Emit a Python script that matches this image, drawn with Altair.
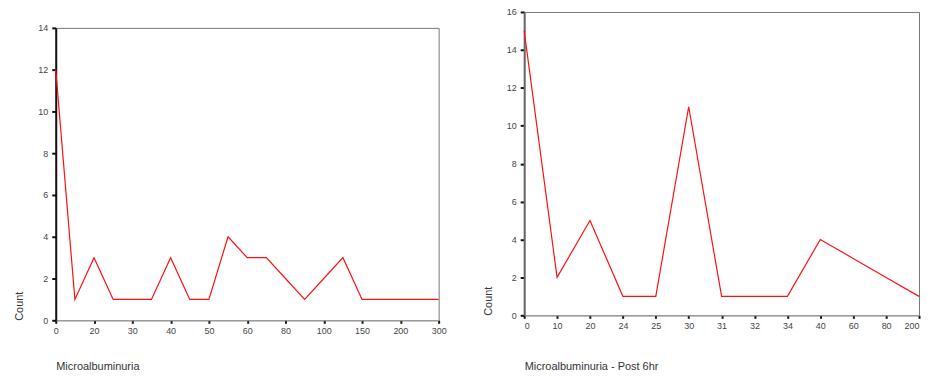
import altair as alt
import pandas as pd

# Left panel: Microalbuminuria (21 ordered categories, every 2nd labelled)
left_categories = ["0", "10", "20", "25", "30", "35", "40", "45", "50", "55", "60",
                   "70", "80", "90", "100", "120", "150", "180", "200", "250", "300"]
left_counts = [12, 1, 3, 1, 1, 1, 3, 1, 1, 4, 3, 3, 2, 1, 2, 3, 1, 1, 1, 1, 1]
left_tick_labels = left_categories[::2]

# Right panel: Microalbuminuria - Post 6hr
right_categories = ["0", "10", "20", "24", "25", "30", "31", "32", "34", "40", "60", "80", "200"]
right_counts = [15, 2, 5, 1, 1, 11, 1, 1, 1, 4, 3, 2, 1]

left_df = pd.DataFrame({"cat": left_categories, "count": left_counts})
right_df = pd.DataFrame({"cat": right_categories, "count": right_counts})

FONT = "Liberation Sans"


def panel(df, cats, tick_values, ymax, xtitle, w, h, ydomain_color, title_pad, flush):
    return alt.Chart(df).mark_line(color="#ff1010", strokeWidth=1.2).encode(
        x=alt.X("cat:N", sort=cats,
                scale=alt.Scale(type="point", padding=0),
                axis=alt.Axis(values=tick_values, labelAngle=0, title=xtitle,
                              titleAnchor="start", titleAlign="left",
                              titlePadding=title_pad, titleFontWeight="normal",
                              titleFontSize=11, titleColor="#333", titleFont=FONT,
                              labelFontSize=9, labelColor="#444", labelFont=FONT,
                              labelPadding=3, labelFlush=flush,
                              domainColor="#999", domainWidth=1,
                              tickColor="#111", tickSize=3, tickWidth=2, grid=False)),
        y=alt.Y("count:Q",
                scale=alt.Scale(domain=[0, ymax], nice=False, zero=True),
                axis=alt.Axis(values=list(range(0, ymax + 1, 2)), title="Count",
                              titleAnchor="start", titleAlign="left",
                              titlePadding=13, titleFontWeight="normal",
                              titleFontSize=11, titleColor="#333", titleFont=FONT,
                              labelFontSize=9, labelColor="#444", labelFont=FONT,
                              labelPadding=4,
                              domainColor=ydomain_color, domainWidth=2,
                              tickColor="#111", tickSize=4, tickWidth=2, grid=False)),
    ).properties(width=w, height=h, view=alt.ViewBackground(stroke="#777", strokeWidth=1))


spacer = alt.Chart(pd.DataFrame({"s": [0]})).mark_point(opacity=0).encode(
    x=alt.value(0), y=alt.value(0)
).properties(width=385, height=10, view=alt.ViewBackground(stroke="transparent"))

left = panel(left_df, left_categories, left_tick_labels, 14, "Microalbuminuria",
             385, 294, "#111", 25, False)
right = panel(right_df, right_categories, right_categories, 16,
              "Microalbuminuria - Post 6hr", 397, 305, "#666", 30, True)

chart = alt.hconcat(alt.vconcat(spacer, left, spacing=0), right, spacing=34).properties(
    padding={"left": 5, "top": -2, "right": 0, "bottom": 0}
).configure(background="white")

chart.save("out.html", embed_options={"renderer": "svg", "actions": False})
